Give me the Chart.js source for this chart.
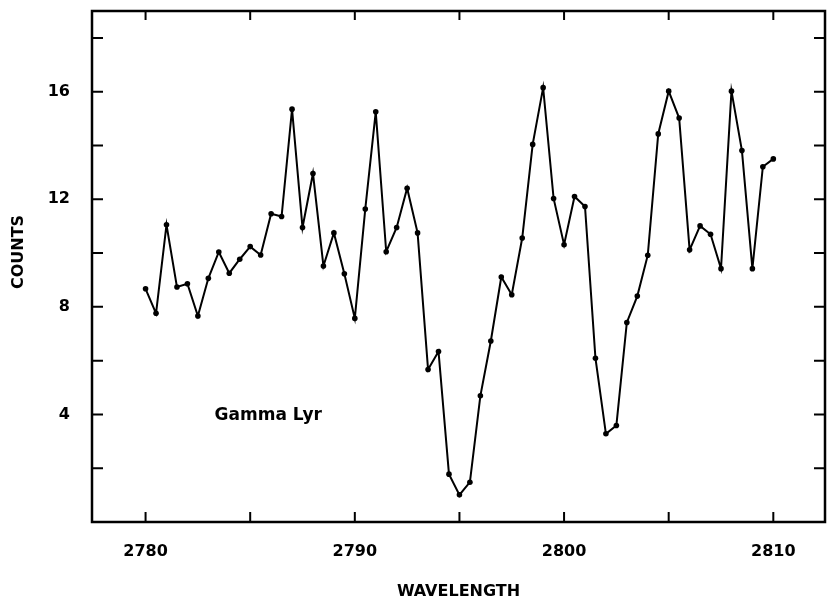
<!DOCTYPE html>
<html>
<head>
<meta charset="utf-8">
<script src="https://cdn.jsdelivr.net/npm/chart.js@4.4.1/dist/chart.umd.min.js"></script>
<style>
  body { margin: 0; background: #fff; }
  canvas { display: block; }
</style>
</head>
<body>
<canvas id="spectrum" width="829" height="600"></canvas>
<script>
// wavelength samples (0.5 step) and counts
const wavelength = [
  2780, 2780.5, 2781, 2781.5, 2782, 2782.5, 2783, 2783.5, 2784, 2784.5,
  2785, 2785.5, 2786, 2786.5, 2787, 2787.5, 2788, 2788.5, 2789, 2789.5,
  2790, 2790.5, 2791, 2791.5, 2792, 2792.5, 2793, 2793.5, 2794, 2794.5,
  2795, 2795.5, 2796, 2796.5, 2797, 2797.5, 2798, 2798.5, 2799, 2799.5,
  2800, 2800.5, 2801, 2801.5, 2802, 2802.5, 2803, 2803.5, 2804, 2804.5,
  2805, 2805.5, 2806, 2806.5, 2807, 2807.5, 2808, 2808.5, 2809, 2809.5,
  2810
];
const counts = [
  8.67, 7.76, 11.05, 8.74, 8.86, 7.66, 9.06, 10.04, 9.25, 9.77,
  10.24, 9.93, 11.46, 11.36, 15.35, 10.95, 12.96, 9.52, 10.75, 9.23,
  7.57, 11.64, 15.25, 10.05, 10.95, 12.41, 10.75, 5.67, 6.34, 1.78,
  1.01, 1.48, 4.69, 6.73, 9.11, 8.45, 10.56, 14.04, 16.15, 12.03,
  10.31, 12.10, 11.73, 6.09, 3.28, 3.59, 7.42, 8.40, 9.92, 14.43,
  16.02, 15.02, 10.12, 11.01, 10.70, 9.42, 16.02, 13.81, 9.42, 13.21,
  13.50
];
const xTickLabels = [2780, 2790, 2800, 2810];
const yTickLabels = [4, 8, 12, 16];
const starName = 'Gamma Lyr';
const yTitle = 'COUNTS';

const FONT = '"DejaVu Sans", sans-serif';

// box around the plot + inward tick marks on all four sides
const framePlugin = {
  id: 'frame',
  beforeDatasetsDraw(chart) {
    const { ctx, chartArea: a, scales: { x, y } } = chart;
    ctx.save();
    ctx.strokeStyle = '#000';
    ctx.lineWidth = 2.5;
    ctx.strokeRect(a.left, a.top, a.right - a.left, a.bottom - a.top);
    ctx.lineWidth = 2;
    ctx.beginPath();
    x.ticks.forEach(t => {
      const px = x.getPixelForValue(t.value);
      ctx.moveTo(px, a.bottom); ctx.lineTo(px, a.bottom - 10);
      ctx.moveTo(px, a.top); ctx.lineTo(px, a.top + 9);
    });
    y.ticks.forEach(t => {
      if (t.value <= 0) return;
      const py = y.getPixelForValue(t.value);
      ctx.moveTo(a.left, py); ctx.lineTo(a.left + 11, py);
      ctx.moveTo(a.right, py); ctx.lineTo(a.right - 11, py);
    });
    ctx.stroke();
    ctx.restore();
  },
  afterDraw(chart) {
    const { ctx, scales: { x, y } } = chart;
    ctx.save();
    ctx.fillStyle = '#000';
    ctx.textBaseline = 'middle';
    // star name inside the plot
    ctx.font = 'bold 17px ' + FONT;
    ctx.textAlign = 'left';
    ctx.fillText(starName, x.getPixelForValue(2783.3), y.getPixelForValue(3.97));
    // vertical axis title (sits a bit above the centre in the original)
    ctx.font = 'bold 16px ' + FONT;
    ctx.textAlign = 'center';
    ctx.translate(19, y.getPixelForValue(10.04));
    ctx.rotate(-Math.PI / 2);
    ctx.fillText(yTitle, 0, 0);
    ctx.restore();
  }
};

// fixed axis sizes, no extra label overhang padding
function fixSize(prop, size) {
  return s => {
    s[prop] = size;
    s.paddingTop = 0; s.paddingBottom = 0;
    s.paddingLeft = 0; s.paddingRight = 0;
  };
}

const data = wavelength.map((w, i) => ({ x: w, y: counts[i] }));

new Chart(document.getElementById('spectrum'), {
  type: 'line',
  data: {
    datasets: [{
      label: starName,
      data: data,
      borderColor: '#000',
      borderWidth: 2,
      tension: 0,
      pointRadius: 2.8,
      pointBackgroundColor: '#000',
      pointBorderWidth: 0,
      fill: false
    }]
  },
  options: {
    responsive: false,
    animation: false,
    layout: { padding: { top: 11, right: -4, left: 0, bottom: 0 } },
    plugins: {
      legend: { display: false },
      tooltip: { enabled: false }
    },
    scales: {
      x: {
        type: 'linear',
        min: 2777.44,
        max: 2812.47,
        afterFit: fixSize('height', 78),
        border: { display: false },
        grid: { display: false, drawTicks: false },
        ticks: {
          stepSize: 5,
          includeBounds: false,
          autoSkip: false,
          maxRotation: 0,
          padding: 20,
          color: '#000',
          font: { family: FONT, size: 16, weight: 'bold' },
          callback: v => xTickLabels.includes(v) ? String(v) : ''
        },
        title: {
          display: true,
          text: 'WAVELENGTH',
          color: '#000',
          padding: { top: 0, bottom: 0 },
          font: { family: FONT, size: 16, weight: 'bold', lineHeight: 1 }
        }
      },
      y: {
        min: 0,
        max: 19,
        afterFit: fixSize('width', 92),
        border: { display: false },
        grid: { display: false, drawTicks: false },
        ticks: {
          stepSize: 2,
          includeBounds: false,
          autoSkip: false,
          padding: 22,
          color: '#000',
          font: { family: FONT, size: 16, weight: 'bold' },
          callback: v => yTickLabels.includes(v) ? String(v) : ''
        },
        title: { display: false }
      }
    }
  },
  plugins: [framePlugin]
});
</script>
</body>
</html>
